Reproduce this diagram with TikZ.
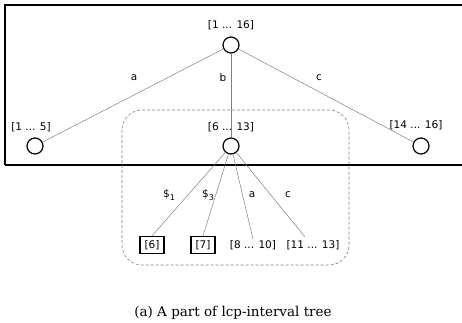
\documentclass[tikz,border=0pt]{standalone}
\usepackage{fontspec}
\setmainfont{DejaVu Sans}
\newfontfamily\capfont{DejaVu Serif}
\begin{document}
\begin{tikzpicture}[x=1pt,y=-1pt,
  inode/.style={circle,draw=black,line width=1.2pt,minimum size=16pt,inner sep=0pt},
  lab/.style={font=\fontsize{10.5}{12}\selectfont,inner sep=1pt},
  leafbox/.style={draw=black,line width=1.2pt,minimum width=24pt,minimum height=17pt,inner sep=1pt,font=\fontsize{10.5}{12}\selectfont},
  edge/.style={draw=gray,line width=0.5pt},
  elab/.style={font=\fontsize{10.5}{12}\selectfont,inner sep=0pt}]
\useasboundingbox (0,0) rectangle (462,322);
% outer frame
\draw[line width=1.2pt] (462,5) -- (5,5) -- (5,165);
\draw[line width=1.8pt] (5,165) -- (462,165);
% rounded region
\draw[gray,densely dashed,line width=0.6pt,rounded corners=20pt] (122,110) rectangle (349,265);
% nodes
\node[inode] (root) at (231,45) {};
\node[lab] (rootl) at (231,25) {[1 ... 16]};
\node[inode] (L) at (35,146) {};
\node[lab] (Ll) at (31,127) {[1 ... 5]};
\node[inode] (M) at (231,146) {};
\node[lab] (Ml) at (231,127) {[6 ... 13]};
\node[inode] (R) at (421,146) {};
\node[lab] (Rl) at (416,125) {[14 ... 16]};
\node[leafbox] (c1) at (152,245) {[6]};
\node[leafbox] (c2) at (203,245) {[7]};
\node[lab] (c3) at (253,245) {[8 ... 10]};
\node[lab] (c4) at (313,245) {[11 ... 13]};
% edges
\draw[edge] (root) -- (L);
\draw[edge] (root) -- (M);
\draw[edge] (root) -- (R);
\draw[edge] (M) -- (c1.north);
\draw[edge] (M) -- (c2.north);
\draw[edge] (M) -- (c3.north);
\draw[edge] (M) -- (305,237) coordinate (c4e);
% edge labels
\node[elab] (ea) at (134,78) {a};
\node[elab] (eb) at (223,78) {b};
\node[elab] (ec) at (319,78) {c};
\node[elab] (e1) at (169,195) {\$\raisebox{-0.5ex}{\fontsize{8}{9}\selectfont 1}};
\node[elab] (e2) at (208,195) {\$\raisebox{-0.5ex}{\fontsize{8}{9}\selectfont 3}};
\node[elab] (e3) at (252,195) {a};
\node[elab] (e4) at (288,195) {c};
% caption
\node[font=\capfont\fontsize{13.5}{16}\selectfont] (cap) at (233,313) {(a) A part of lcp-interval tree};
\end{tikzpicture}
\end{document}
